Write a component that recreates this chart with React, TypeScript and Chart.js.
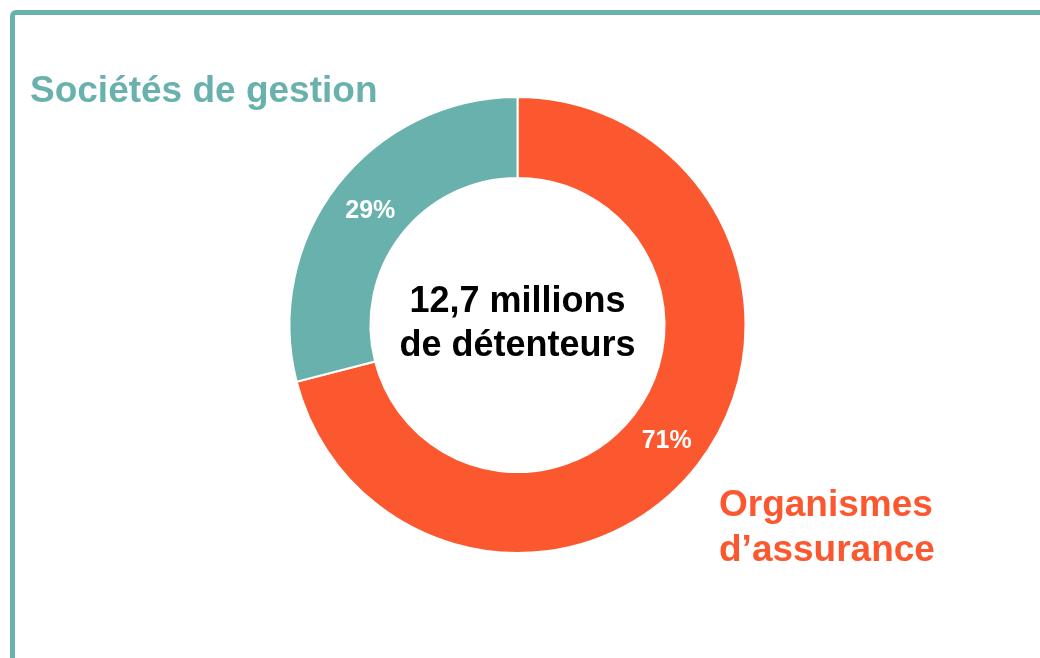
import React, { useEffect, useRef } from "react";
import { Chart, registerables } from "chart.js";

Chart.register(...registerables);

const categories = ["Organismes d’assurance", "Sociétés de gestion"];
const shares = [71, 29];
const sliceLabels = ["71%", "29%"];
const colors = ["#FC5830", "#69B1AC"];
const centerLines = ["12,7 millions", "de détenteurs"];

const FONT = "'Liberation Sans', Arial, Helvetica, sans-serif";

const labelPlugin = {
  id: "sliceAndCenterLabels",
  afterDatasetsDraw(chart: any) {
    const { ctx } = chart;
    const meta = chart.getDatasetMeta(0);
    ctx.save();
    ctx.textAlign = "center";
    ctx.textBaseline = "middle";
    ctx.fillStyle = "#ffffff";
    ctx.font = `bold 25px ${FONT}`;
    meta.data.forEach((arc: any, i: number) => {
      const p = arc.tooltipPosition();
      ctx.fillText(sliceLabels[i], p.x + 1, p.y + 1);
    });
    const first = meta.data[0];
    const cx = first.x;
    const cy = first.y;
    ctx.fillStyle = "#000000";
    ctx.font = `bold 36px ${FONT}`;
    ctx.fillText(centerLines[0], cx, cy - 23);
    ctx.fillText(centerLines[1], cx, cy + 21);
    ctx.restore();
  },
};

export default function App() {
  const canvasRef = useRef<HTMLCanvasElement | null>(null);

  useEffect(() => {
    document.body.style.margin = "0";
    const canvas = canvasRef.current;
    if (!canvas) return;
    const chart = new Chart(canvas, {
      type: "doughnut",
      data: {
        labels: categories,
        datasets: [
          {
            data: shares,
            backgroundColor: colors,
            borderColor: "#ffffff",
            borderWidth: 2,
          },
        ],
      },
      options: {
        responsive: false,
        animation: false,
        cutout: "64.5%",
        layout: { padding: { top: 96, bottom: 104, left: 288, right: 293 } },
        plugins: {
          legend: { display: false },
          tooltip: { enabled: false },
        },
      },
      plugins: [labelPlugin],
    });
    return () => chart.destroy();
  }, []);

  return (
    <div
      style={{
        position: "fixed",
        left: 0,
        top: 0,
        width: 1040,
        height: 658,
        overflow: "hidden",
        background: "#ffffff",
        fontFamily: FONT,
      }}
    >
      <div
        style={{
          position: "absolute",
          left: 10,
          top: 10,
          width: 1200,
          height: 900,
          border: "5px solid #69B1AC",
          borderRadius: 6,
          boxSizing: "border-box",
        }}
      />
      <canvas
        ref={canvasRef}
        width={1040}
        height={658}
        style={{ position: "absolute", left: 0, top: 0 }}
      />
      <div
        style={{
          position: "absolute",
          left: 30,
          top: 68,
          fontSize: 37,
          fontWeight: "bold",
          color: "#69B1AC",
          lineHeight: "44px",
          whiteSpace: "nowrap",
        }}
      >
        Sociétés de gestion
      </div>
      <div
        style={{
          position: "absolute",
          left: 719,
          top: 481,
          fontSize: 37,
          fontWeight: "bold",
          color: "#FC5830",
          lineHeight: "45px",
          whiteSpace: "nowrap",
        }}
      >
        Organismes
        <br />
        d’assurance
      </div>
    </div>
  );
}
